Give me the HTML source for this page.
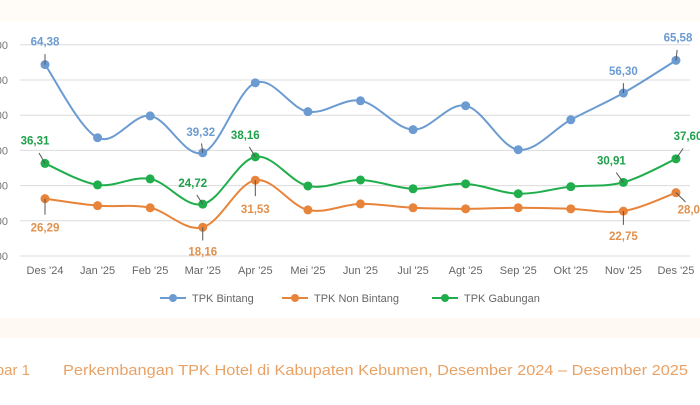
<!DOCTYPE html>
<html><head><meta charset="utf-8">
<style>
html,body{margin:0;padding:0;background:#fff;}
body{width:700px;height:400px;overflow:hidden;font-family:"Liberation Sans",sans-serif;}
</style></head>
<body>
<svg id="chart" width="700" height="400" viewBox="0 0 700 400" xmlns="http://www.w3.org/2000/svg">
  <rect x="0" y="0" width="700" height="22" fill="#fffbf7"/>
  <rect x="0" y="318" width="700" height="20" fill="#fff9f4"/>
  <g id="grid"></g>
  <g id="yticks"></g>
  <g id="xticks"></g>
  <g id="series"></g>
  <g id="legend"></g>
  <text x="30" y="375" font-size="15" fill="#e9a266" text-anchor="end">Gambar 1</text>
  <text x="63" y="375" font-size="15" fill="#e9a266" textLength="625" lengthAdjust="spacingAndGlyphs">Perkembangan TPK Hotel di Kabupaten Kebumen, Desember 2024 – Desember 2025</text>
</svg>
<script>
const categories = ["Des '24","Jan '25","Feb '25","Mar '25","Apr '25","Mei '25","Jun '25","Jul '25","Agt '25","Sep '25","Okt '25","Nov '25","Des '25"];
const bintang = [64.38,43.6,49.8,39.32,59.2,51.0,54.1,45.9,52.7,40.2,48.7,56.30,65.58];
const nonBintang = [26.29,24.3,23.7,18.16,31.53,23.1,24.8,23.7,23.4,23.7,23.4,22.75,28.0];
const gabungan = [36.31,30.2,31.9,24.72,38.16,29.9,31.6,29.1,30.5,27.7,29.7,30.91,37.6];
const yTicks = [10,20,30,40,50,60,70];
const seriesNames = ["TPK Bintang","TPK Non Bintang","TPK Gabungan"];
const labelIdx = [[0,0,"64,38"],[0,3,"39,32"],[0,11,"56,30"],[0,12,"65,58"],
  [1,0,"26,29"],[1,3,"18,16"],[1,4,"31,53"],[1,11,"22,75"],[1,12,"28,00"],
  [2,0,"36,31"],[2,3,"24,72"],[2,4,"38,16"],[2,11,"30,91"],[2,12,"37,60"]];

const NS="http://www.w3.org/2000/svg";
const x0=45, xStep=52.58, yBase=256, pxPerUnit=3.52;
const xs=i=>x0+i*xStep;
const ys=v=>yBase-(v-10)*pxPerUnit;
function mk(tag,attrs,parent){const e=document.createElementNS(NS,tag);for(const k in attrs)e.setAttribute(k,attrs[k]);parent.appendChild(e);return e;}
const grid=document.getElementById('grid'),yt=document.getElementById('yticks'),xt=document.getElementById('xticks'),sg=document.getElementById('series'),lg=document.getElementById('legend');
yTicks.forEach(v=>{
  const l=mk('line',{x1:20,x2:690,y1:ys(v),y2:ys(v),stroke:'#dcdcdc','stroke-width':1},grid);
  
  
  const t=mk('text',{x:8,y:ys(v)+4,'font-size':11,fill:'#777','text-anchor':'end'},yt);
  t.textContent=v.toFixed(2).replace('.',',');
  
  
});
categories.forEach((c,i)=>{
  const t=mk('text',{x:xs(i),y:274,'font-size':11,fill:'#666','text-anchor':'middle'},xt);
  t.textContent=c;
  
  
});
const colors=['#6b9bd1','#e8833a','#1fae4b'];
const labelColors=['#6b9bd1','#e0914d','#1fa04a'];
const all=[bintang,nonBintang,gabungan];
function smooth(pts){
  let d=`M${pts[0][0]},${pts[0][1]}`;
  for(let i=0;i<pts.length-1;i++){
    const p0=pts[Math.max(0,i-1)],p1=pts[i],p2=pts[i+1],p3=pts[Math.min(pts.length-1,i+2)];
    const t=0.17;
    d+=` C${p1[0]+(p2[0]-p0[0])*t},${p1[1]+(p2[1]-p0[1])*t} ${p2[0]-(p3[0]-p1[0])*t},${p2[1]-(p3[1]-p1[1])*t} ${p2[0]},${p2[1]}`;
  }
  return d;
}
all.forEach((arr,s)=>{
  const pts=arr.map((v,i)=>[xs(i),ys(v)]);
  const p=mk('path',{d:smooth(pts),fill:'none',stroke:colors[s],'stroke-width':2},sg);
  
  
  pts.forEach(pt=>{
    const c=mk('circle',{cx:pt[0],cy:pt[1],r:4.5,fill:colors[s]},sg);
    
    
  });
});
const offs={ '0,0':[0,-19],'0,3':[-2,-17],'0,11':[0,-18],'0,12':[2,-19],
 '1,0':[0,29],'1,3':[0,24],'1,4':[0,29],'1,11':[0,25],'1,12':[16,17],
 '2,0':[-10,-19],'2,3':[-10,-17],'2,4':[-10,-18],'2,11':[-12,-18],'2,12':[12,-19]};
labelIdx.forEach(([s,i,txt])=>{
  const o=offs[s+','+i];
  const x=xs(i),y=ys(all[s][i]);
  const ln=mk('line',{x1:x,y1:y,x2:x+o[0]*0.6,y2:y+o[1]*0.55,stroke:'#555','stroke-width':1},sg);
  
  
  const t=mk('text',{x:x+o[0],y:y+o[1]+(o[1]<0?0:4),'font-size':11.5,'font-weight':'bold',fill:labelColors[s],'text-anchor':'middle'},sg);
  t.textContent=txt;
  
  
});
const lx=[160,282,432];
seriesNames.forEach((n,s)=>{
  const l=mk('line',{x1:lx[s],x2:lx[s]+26,y1:298,y2:298,stroke:colors[s],'stroke-width':2},lg);
  
  
  const c=mk('circle',{cx:lx[s]+13,cy:298,r:4,fill:colors[s]},lg);
  
  
  const t=mk('text',{x:lx[s]+32,y:302,'font-size':11,fill:'#666'},lg);
  t.textContent=n;
  
  
});
</script>
</body></html>
